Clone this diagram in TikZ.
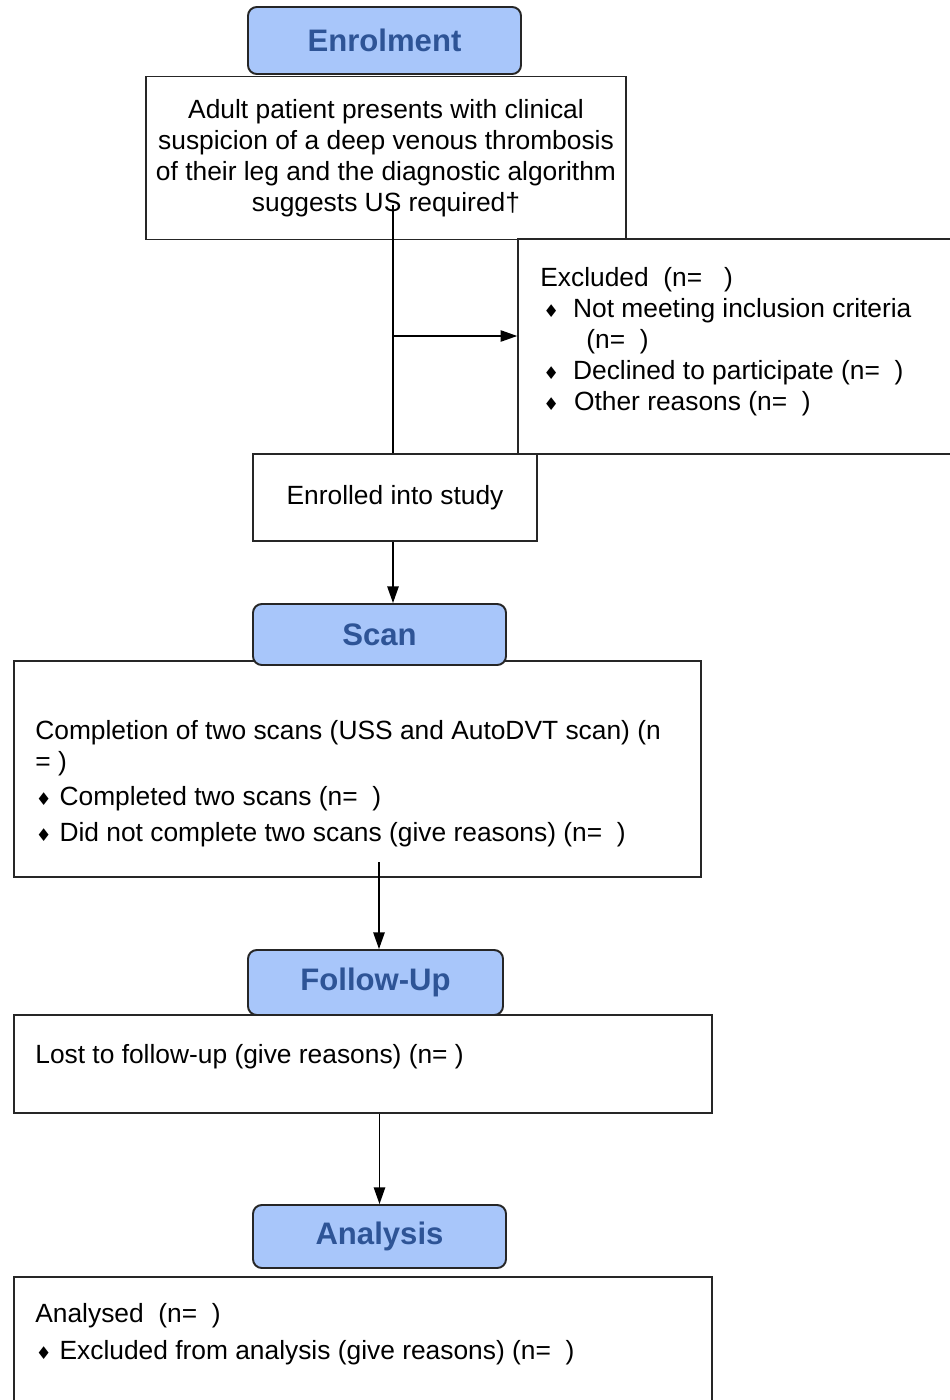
\documentclass[tikz,border=0pt]{standalone}
\usepackage{fontspec}
\setmainfont{Liberation Sans}
\newfontfamily\dejavu{DejaVu Sans}
\usetikzlibrary{arrows.meta}
\definecolor{headfill}{HTML}{A8C6FA}
\definecolor{headtext}{HTML}{2E5496}
\newlength\pxu
\setlength\pxu{0.02cm}
\newcommand\dmd{{\dejavu\fontsize{10}{10}\selectfont ♦}}

\begin{document}
\begin{tikzpicture}[x=0.02cm,y=-0.02cm,
  phase/.style={rectangle,rounded corners=5pt,draw=black!85,line width=1.1pt,fill=headfill,inner sep=0pt,font=\fontsize{17.7}{20}\selectfont\bfseries,text=headtext},
  box/.style={rectangle,draw=black!85,line width=0.9pt,inner sep=0pt,font=\fontsize{15}{17.6}\selectfont},
  boxtext/.style={inner sep=0pt,anchor=north west,align=left,font=\fontsize{15}{17.6}\selectfont},
  flow/.style={-{Triangle[length=9.5pt,width=6.5pt]},line width=0.8pt}]
\useasboundingbox[fill=white] (0,0) rectangle (950,1400);

\node[box,minimum width=480\pxu,minimum height=163\pxu,align=center] (elig) at (386,158) {Adult patient presents with clinical\\suspicion of a deep venous thrombosis\\of their leg and the diagnostic algorithm\\suggests US required†};
\node[box,minimum width=444\pxu,minimum height=215\pxu] (excl) at (740,346.5) {};
\node[boxtext] (excltxt) at (540,267) {Excluded\ \ (n=\ \ \ )\\
\hspace*{3\pxu}\dmd\hspace{14\pxu}Not meeting inclusion criteria\\
\hspace*{46\pxu}(n=\ \ )\\
\hspace*{3\pxu}\dmd\hspace{14\pxu}Declined to participate (n=\ \ )\\
\hspace*{3\pxu}\dmd\hspace{15\pxu}Other reasons (n=\ \ )};
\node[box,minimum width=284\pxu,minimum height=87\pxu] (enrolled) at (395,497.5) {Enrolled into study};

\node[box,minimum width=687\pxu,minimum height=216\pxu] (scanbox) at (357.5,769) {};
\node[boxtext] (scantxt) at (35,720) {Completion of two scans (USS and AutoDVT scan) (n\\
= )\\[2.5pt]
\hspace*{0.5\pxu}\dmd\hspace{8\pxu}Completed two scans (n=\ \ )\\[2.5pt]
\hspace*{0.5\pxu}\dmd\hspace{8\pxu}Did not complete two scans (give reasons) (n=\ \ )};

\node[box,minimum width=698\pxu,minimum height=98\pxu] (lostbox) at (363,1064) {};
\node[boxtext] (losttxt) at (35,1044) {Lost to follow-up (give reasons) (n= )};

\node[box,minimum width=698\pxu,minimum height=133\pxu] (analbox) at (363,1343.5) {};
\node[boxtext] (analtxt) at (35,1303) {Analysed\ \ (n=\ \ )\\[3.5pt]
\hspace*{0.5\pxu}\dmd\hspace{8\pxu}Excluded from analysis (give reasons) (n=\ \ )};

\node[phase,minimum width=273\pxu,minimum height=67\pxu] (enrol) at (384.5,40.5) {Enrolment};
\node[phase,minimum width=253\pxu,minimum height=61\pxu] (scan) at (379.5,634.5) {Scan};
\node[phase,minimum width=255\pxu,minimum height=65\pxu] (follow) at (375.5,982.5) {Follow-Up};
\node[phase,minimum width=253\pxu,minimum height=63\pxu] (analysis) at (379.5,1236.5) {Analysis};

\coordinate (split) at (393,205);
\coordinate (branch) at (393,336);
\coordinate (scanout) at (379,862);
\draw[line width=0.8pt] (split) -- (split |- enrolled.north);
\draw[flow] (branch) -- (branch -| excl.west);
\draw[flow] (enrolled.south -| split) -- (split |- scan.north);
\draw[flow] (scanout) -- (scanout |- follow.north);
\draw[flow] (lostbox.south -| analysis.north) -- (analysis.north);
\end{tikzpicture}
\end{document}
